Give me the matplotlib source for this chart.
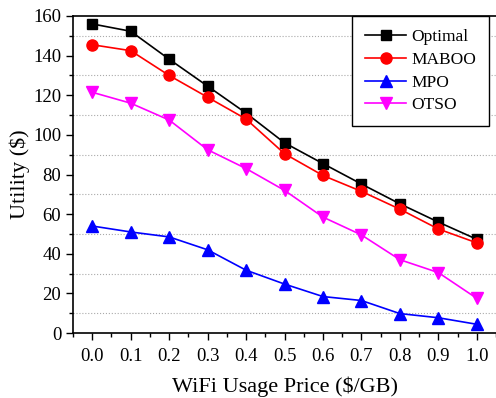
import matplotlib
matplotlib.use('Agg')
import matplotlib.pyplot as plt
from matplotlib.ticker import MultipleLocator

# Данные
price = [0.0, 0.1, 0.2, 0.3, 0.4, 0.5, 0.6, 0.7, 0.8, 0.9, 1.0]
optimal = [156, 152.3, 138.2, 124.6, 111, 96, 85.5, 75.2, 65.2, 56, 47.3]
maboo = [145.5, 142.5, 130, 119, 108, 90.5, 79.5, 71.5, 62.5, 52.5, 45.5]
mpo = [54, 51, 48.5, 42, 31.7, 24.7, 18.4, 16.4, 9.8, 7.7, 4.4]
otso = [121.5, 116, 107.5, 92.5, 83, 72, 58.5, 49.5, 37, 30.5, 17.5]
tick_labels = ['0.0', '0.1', '0.2', '0.3', '0.4', '0.5', '0.6', '0.7', '0.8', '0.9', '1.0']

plt.rcParams['font.family'] = ['Liberation Serif', 'DejaVu Serif']

fig = plt.figure(figsize=(4.96, 3.98), dpi=100)
ax = fig.add_axes([73 / 496, 65 / 398, 423 / 496, 317 / 398])

ax.plot(price, optimal, color='black', marker='s', markersize=7, lw=1.2, label='Optimal')
ax.plot(price, maboo, color='red', marker='o', markersize=8, lw=1.2, label='MABOO')
ax.plot(price, mpo, color='blue', marker='^', markersize=8, lw=1.2, label='MPO')
ax.plot(price, otso, color='magenta', marker='v', markersize=8, lw=1.2, label='OTSO')

ax.set_xlim(-0.05, 1.05)
ax.set_ylim(0, 160)
ax.set_xticks(price)
ax.set_xticklabels(tick_labels)
ax.xaxis.set_minor_locator(MultipleLocator(0.05))
ax.yaxis.set_major_locator(MultipleLocator(20))
ax.yaxis.set_minor_locator(MultipleLocator(10))
ax.tick_params(which='major', direction='out', length=5, width=1, labelsize=13.5)
ax.tick_params(axis='x', which='major', pad=6)
ax.tick_params(which='minor', direction='out', length=3, width=1)
ax.grid(True, which='minor', axis='y', linestyle=':', color='#aaaaaa', lw=0.8)
ax.spines['right'].set_visible(False)
for s in ['left', 'bottom', 'top']:
    ax.spines[s].set_linewidth(1.2)

ax.set_xlabel('WiFi Usage Price (\\$/GB)', fontsize=16, labelpad=8)
ax.set_ylabel('Utility (\\$)', fontsize=16, labelpad=2)

leg = ax.legend(loc='upper right', bbox_to_anchor=(0.984, 1.0), borderaxespad=0,
                fontsize=12.5, fancybox=False, edgecolor='black', framealpha=1,
                handlelength=2.35, handletextpad=0.3, borderpad=0.75, labelspacing=0.38)
leg.get_frame().set_linewidth(1.0)

fig.savefig('out.png', dpi=100)
